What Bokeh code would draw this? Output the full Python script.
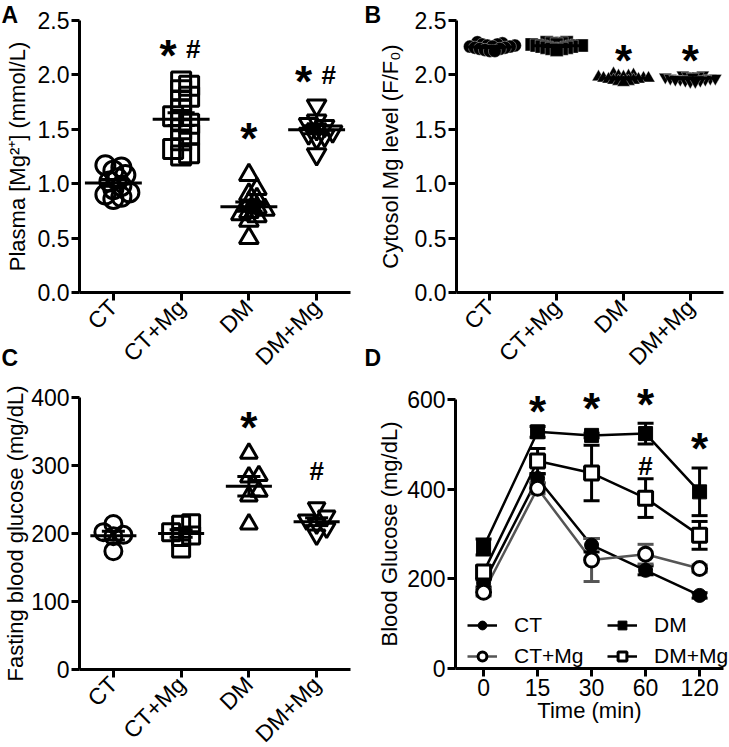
import math
from bokeh.plotting import figure
from bokeh.layouts import gridplot
from bokeh.models import Range1d, FixedTicker, NumeralTickFormatter, Label, Legend, LegendItem
from bokeh.core.properties import value
from bokeh.embed import file_html
from bokeh.resources import INLINE

FONT = "Liberation Sans"
groups = ["CT", "CT+Mg", "DM", "DM+Mg"]
markers = ["circle", "square", "triangle", "inverted_triangle"]

# ---------------- Panel A: plasma Mg2+ (mmol/L)
plasma_ct = [1.17, 1.15, 1.12, 1.08, 1.05, 1.02, 0.98, 0.95, 0.92, 0.90, 0.88, 0.86]
plasma_ctmg = [1.94, 1.90, 1.86, 1.80, 1.76, 1.68, 1.62, 1.58, 1.55, 1.50, 1.45, 1.40, 1.32, 1.28, 1.26]
plasma_dm = [1.08, 0.95, 0.90, 0.86, 0.82, 0.78, 0.76, 0.74, 0.72, 0.70, 0.66, 0.50]
plasma_dmmg = [1.72, 1.58, 1.55, 1.53, 1.50, 1.48, 1.46, 1.44, 1.42, 1.27]
a_ticks = [0, 0.5, 1.0, 1.5, 2.0, 2.5]
a_sig_group = ["CT+Mg", "DM", "DM+Mg"]
a_sig_y = [2.25, 1.49, 2.01]
a_sig_sym = ["*#", "*", "*#"]

# ---------------- Panel B: cytosol Mg level (F/F0)
cyto_ct = [2.30, 2.29, 2.28, 2.28, 2.27, 2.27, 2.26, 2.26, 2.26, 2.25, 2.25, 2.24, 2.24, 2.23, 2.22, 2.22]
cyto_ctmg = [2.30, 2.30, 2.29, 2.29, 2.28, 2.28, 2.27, 2.27, 2.27, 2.26, 2.26, 2.25, 2.25, 2.24, 2.24, 2.23]
cyto_dm = [2.01, 2.00, 1.99, 1.99, 1.98, 1.98, 1.97, 1.97, 1.97, 1.96, 1.96, 1.95, 1.95, 1.94, 1.94, 1.93]
cyto_dmmg = [2.00, 2.00, 1.99, 1.99, 1.98, 1.98, 1.97, 1.97, 1.97, 1.96, 1.96, 1.96, 1.95, 1.95, 1.94, 1.94]
b_ticks = [0, 0.5, 1.0, 1.5, 2.0, 2.5]
b_sig_group = ["DM", "DM+Mg"]
b_sig_y = [2.21, 2.21]
b_sig_sym = ["*", "*"]

# ---------------- Panel C: fasting blood glucose (mg/dL)
fbg_ct = [214, 202, 198, 196, 174]
fbg_ctmg = [215, 213, 202, 197, 195, 178]
fbg_dm = [318, 285, 283, 262, 255, 214]
fbg_dmmg = [238, 226, 220, 214, 208, 198]
c_ticks = [0, 100, 200, 300, 400]
c_sig_group = ["DM", "DM+Mg"]
c_sig_y = [367, 293]
c_sig_sym = ["*", "#"]

# ---------------- Panel D: blood glucose time course (mg/dL)
times = ["0", "15", "30", "60", "120"]
d_ct = [190, 424, 275, 219, 163]
d_ct_err = [8, 10, 15, 10, 6]
d_ctmg = [170, 402, 242, 255, 223]
d_ctmg_err = [8, 12, 48, 22, 8]
d_dm = [271, 528, 520, 524, 394]
d_dm_err = [18, 12, 5, 23, 53]
d_dmmg = [215, 463, 436, 380, 297]
d_dmmg_err = [15, 28, 62, 43, 31]
d_ticks = [0, 200, 400, 600]
d_sig_time = ["15", "30", "60", "120", "60"]
d_sig_y = [591, 598, 607, 509, 453]
d_sig_sym = ["*", "*", "*", "*", "#"]


def make_fig(w, h, origin, corner, x_at_axis, y_at_axis, x_axis_end, y_axis_end, sx, sy):
    """Frame fills the whole canvas; axes are pinned with fixed_location."""
    ox, oy = origin
    cx, cy = corner
    x0 = x_at_axis - (cx - ox) / sx
    x1 = x0 + w / sx
    y0 = y_at_axis - (oy + h - cy) / sy
    y1 = y0 + h / sy
    p = figure(width=w, height=h, x_range=Range1d(x0, x1), y_range=Range1d(y0, y1),
               output_backend="svg", toolbar_location=None, min_border=0)
    p.outline_line_color = None
    p.xgrid.visible = False
    p.ygrid.visible = False
    p.xaxis.fixed_location = y_at_axis
    p.yaxis.fixed_location = x_at_axis
    p.xaxis.bounds = (x_at_axis, x_axis_end)
    p.yaxis.bounds = (y_at_axis, y_axis_end)
    for ax in (p.xaxis[0], p.yaxis[0]):
        ax.axis_line_width = 3
        ax.axis_line_color = "black"
        ax.major_tick_line_width = 3
        ax.major_tick_line_color = "black"
        ax.major_tick_out = 8
        ax.major_tick_in = 0
        ax.minor_tick_line_color = None
        ax.major_label_text_font = FONT
        ax.major_label_text_font_size = "23px"
        ax.major_label_text_color = "black"
        ax.major_label_standoff = 2
        ax.axis_label_text_font = FONT
        ax.axis_label_text_font_size = "22px"
        ax.axis_label_text_font_style = "normal"
        ax.axis_label_text_color = "black"
    geo = dict(w=w, h=h, ox=ox, oy=oy, x0=x0, y1=y1, sx=sx, sy=sy)
    return p, geo


def to_data(geo, fx, fy):
    return geo["x0"] + fx / geo["sx"], geo["y1"] - fy / geo["sy"]


def swarm(vals, center, sy, sx, d):
    order = sorted(range(len(vals)), key=lambda i: vals[i])
    cands = [0.0]
    for j in range(1, 40):
        cands += [j * d * 0.5, -j * d * 0.5]
    placed = []
    xs = [0.0] * len(vals)
    for i in order:
        yp = vals[i] * sy
        off = 0.0
        for off in cands:
            if all((off - ox) ** 2 + (yp - oy) ** 2 >= d * d for ox, oy in placed):
                break
        placed.append((off, yp))
        xs[i] = center + off / sx
    return xs


def letter(p, geo, txt, fx, fy, baseline):
    x, y = to_data(geo, fx, fy)
    p.add_layout(Label(x=x, y=y, text=txt, text_font=FONT, text_font_size="23px",
                       text_font_style="bold", text_align="left", text_baseline=baseline,
                       text_color="black"))


def sig_marks(p, xs, ys, syms):
    star_x, star_y, star_off, hash_x, hash_y, hash_off = [], [], [], [], [], []
    for x, y, s in zip(xs, ys, syms):
        if s == "*#":
            star_x.append(x); star_y.append(y); star_off.append(-13)
            hash_x.append(x); hash_y.append(y); hash_off.append(12)
        elif s == "*":
            star_x.append(x); star_y.append(y); star_off.append(0)
        else:
            hash_x.append(x); hash_y.append(y); hash_off.append(0)
    if star_x:
        p.text(x=star_x, y=star_y, text=["*"] * len(star_x), x_offset=star_off, y_offset=8,
               text_font=value(FONT), text_font_size="44px", text_font_style="bold",
               text_align="center", text_baseline="middle", text_color="black")
    if hash_x:
        p.text(x=hash_x, y=hash_y, text=["#"] * len(hash_x), x_offset=hash_off, y_offset=1,
               text_font=value(FONT), text_font_size="26px", text_font_style="bold",
               text_align="center", text_baseline="middle", text_color="black")


def dot_panel(p, geo, data, size, d, mean_half, sem_half, filled=False):
    means, sems, xs_c = [], [], []
    for i, (vals, mk) in enumerate(zip(data, markers)):
        c = i + 1
        xs = swarm(vals, c, geo["sy"], geo["sx"], d)
        if filled:
            p.scatter(x=xs, y=vals, marker=mk, size=size, fill_color="black",
                      line_color="white", line_width=0.6, line_alpha=0.6)
        else:
            p.scatter(x=xs, y=vals, marker=mk, size=size, fill_alpha=0,
                      line_color="black", line_width=3)
        n = len(vals)
        m = sum(vals) / n
        sd = math.sqrt(sum((v - m) ** 2 for v in vals) / (n - 1))
        means.append(m)
        sems.append(sd / math.sqrt(n))
        xs_c.append(c)
    p.segment(x0=[c - mean_half for c in xs_c], x1=[c + mean_half for c in xs_c],
              y0=means, y1=means, line_color="black", line_width=3)
    p.segment(x0=xs_c, x1=xs_c, y0=[m - s for m, s in zip(means, sems)],
              y1=[m + s for m, s in zip(means, sems)], line_color="black", line_width=3)
    for sign in (-1, 1):
        yy = [m + sign * s for m, s in zip(means, sems)]
        p.segment(x0=[c - sem_half for c in xs_c], x1=[c + sem_half for c in xs_c],
                  y0=yy, y1=yy, line_color="black", line_width=3)


def cat_xaxis(p):
    p.xaxis.ticker = FixedTicker(ticks=[i + 1 for i in range(len(groups))])
    p.xaxis.major_label_overrides = {i + 1: g for i, g in enumerate(groups)}
    p.xaxis.major_label_orientation = math.pi / 4
    p.xaxis.major_label_standoff = 3


W1, W2 = 364, 364
H1, H2 = 370, 376

# ---- A
pa, ga = make_fig(W1, H1, (0, 0), (79, 292), 0.5, 0, 4.5, a_ticks[-1], 67.75, 108.8)
cat_xaxis(pa)
pa.yaxis.ticker = FixedTicker(ticks=a_ticks)
pa.yaxis.formatter = NumeralTickFormatter(format="0.0")
pa.yaxis.axis_label = "Plasma [Mg²⁺] (mmol/L)"
pa.yaxis.axis_label_standoff = 5
dot_panel(pa, ga, [plasma_ct, plasma_ctmg, plasma_dm, plasma_dmmg], 19, 8, 0.42, 0.2)
sig_marks(pa, [groups.index(g) + 1 for g in a_sig_group], a_sig_y, a_sig_sym)
letter(pa, ga, "A", 1, 1, "top")
letter(pa, ga, "C", 1, H1, "bottom")

# ---- B
pb, gb = make_fig(W2, H1, (364, 0), (456, 292), 0.5, 0, 4.5, b_ticks[-1], 66.8, 108.8)
cat_xaxis(pb)
pb.yaxis.ticker = FixedTicker(ticks=b_ticks)
pb.yaxis.formatter = NumeralTickFormatter(format="0.0")
pb.yaxis.axis_label = "Cytosol Mg level (F/F₀)"
pb.yaxis.axis_label_standoff = 9
dot_panel(pb, gb, [cyto_ct, cyto_ctmg, cyto_dm, cyto_dmmg], 13, 5, 0.36, 0.2, filled=True)
sig_marks(pb, [groups.index(g) + 1 for g in b_sig_group], b_sig_y, b_sig_sym)
letter(pb, gb, "B", 0, 1, "top")
letter(pb, gb, "D", 0, H1, "bottom")

# ---- C
pc, gc = make_fig(W1, H2, (0, 370), (79, 669), 0.5, 0, 4.5, c_ticks[-1], 67.75, 0.68)
cat_xaxis(pc)
pc.yaxis.ticker = FixedTicker(ticks=c_ticks)
pc.yaxis.axis_label = "Fasting blood glucose (mg/dL)"
pc.yaxis.axis_label_standoff = 0
dot_panel(pc, gc, [fbg_ct, fbg_ctmg, fbg_dm, fbg_dmmg], 17, 10, 0.34, 0.17)
sig_marks(pc, [groups.index(g) + 1 for g in c_sig_group], c_sig_y, c_sig_sym)

# ---- D
pd_, gd = make_fig(W2, H2, (364, 370), (455, 668), -0.52, 0, 4.44, d_ticks[-1], 54.0, 0.4483)
pd_.xaxis.ticker = FixedTicker(ticks=list(range(len(times))))
pd_.xaxis.major_label_overrides = {i: t for i, t in enumerate(times)}
pd_.xaxis.axis_label = "Time (min)"
pd_.xaxis.axis_label_standoff = -1
pd_.yaxis.ticker = FixedTicker(ticks=d_ticks)
pd_.yaxis.axis_label = "Blood Glucose (mg/dL)"
pd_.yaxis.axis_label_standoff = 2

tx = list(range(len(times)))
series = [
    ("CT", d_ct, d_ct_err, "circle", "black", "black", "black"),
    ("CT+Mg", d_ctmg, d_ctmg_err, "circle", "white", "#555555", "black"),
    ("DM", d_dm, d_dm_err, "square", "black", "black", "black"),
    ("DM+Mg", d_dmmg, d_dmmg_err, "square", "white", "black", "black"),
]
lines, marks = {}, {}
for name, ys, es, mk, fill, lc, mc in series:
    lines[name] = pd_.line(tx, ys, line_color=lc, line_width=2.5)
for name, ys, es, mk, fill, lc, mc in series:
    lo = [y - e for y, e in zip(ys, es)]
    hi = [y + e for y, e in zip(ys, es)]
    pd_.segment(x0=tx, x1=tx, y0=lo, y1=hi, line_color=lc, line_width=3)
    pd_.scatter(x=tx + tx, y=lo + hi, marker="dash", size=16, line_color=lc, line_width=3)
for name, ys, es, mk, fill, lc, mc in series:
    marks[name] = pd_.scatter(tx, ys, marker=mk, size=14, fill_color=fill, line_color=mc,
                              line_width=3 if fill == "white" else 1)
sig_marks(pd_, [times.index(t) for t in d_sig_time], d_sig_y, d_sig_sym)

legend = Legend(items=[LegendItem(label=n, renderers=[lines[n], marks[n]]) for n, *_ in series],
                ncols=2, location=(103, 78), glyph_width=30, glyph_height=22, label_height=22,
                label_width=86, label_standoff=17, spacing=7, padding=0, margin=0,
                label_text_font=FONT, label_text_font_size="21px", label_text_color="black",
                background_fill_alpha=0, border_line_alpha=0)
pd_.add_layout(legend)

grid = gridplot([[pa, pb], [pc, pd_]], toolbar_location=None)
open("out.html", "w").write(file_html(grid, INLINE))
